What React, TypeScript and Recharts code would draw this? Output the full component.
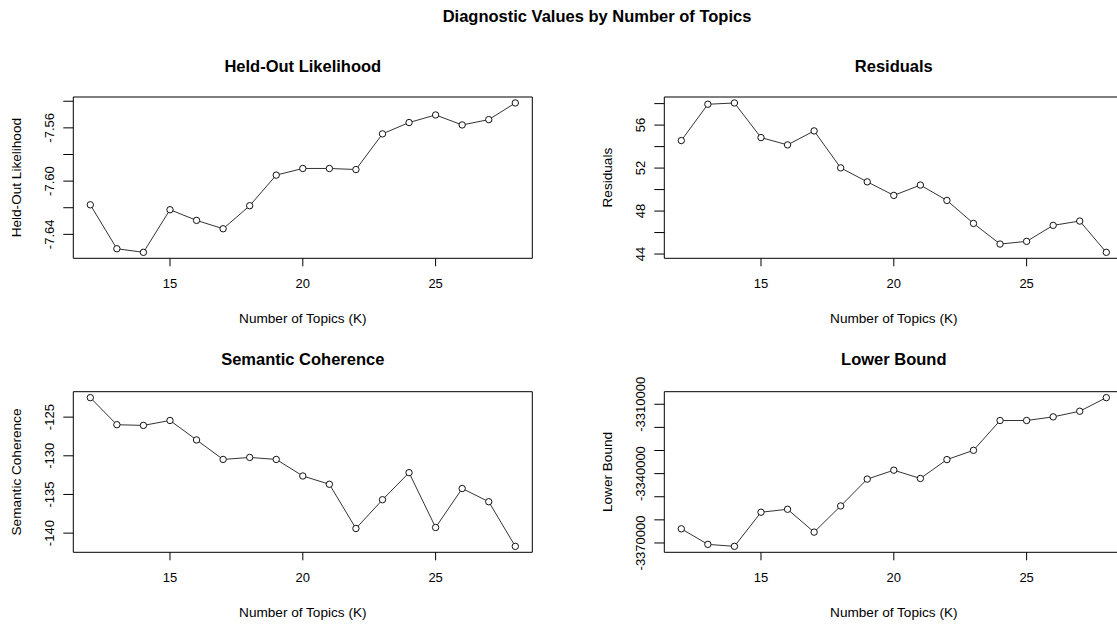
import React from 'react';
import { LineChart, Line, XAxis, YAxis, ReferenceArea, Label } from 'recharts';

const topicsK = [12, 13, 14, 15, 16, 17, 18, 19, 20, 21, 22, 23, 24, 25, 26, 27, 28];
const heldoutLikelihood = [-7.6178, -7.6508, -7.6535, -7.6215, -7.6295, -7.6358, -7.6185, -7.5955, -7.5905, -7.5905, -7.5913, -7.5645, -7.556, -7.5503, -7.5578, -7.5538, -7.5413];
const residuals = [54.56, 57.94, 58.06, 54.84, 54.16, 55.46, 52.02, 50.72, 49.46, 50.42, 48.99, 46.85, 44.93, 45.18, 46.67, 47.07, 44.16];
const semanticCoherence = [-122.48, -125.98, -126.07, -125.43, -127.95, -130.47, -130.21, -130.47, -132.61, -133.68, -139.4, -135.68, -132.18, -139.27, -134.23, -135.94, -141.71];
const lowerBound = [-3363868, -3370602, -3371461, -3356705, -3355415, -3365301, -3353983, -3342378, -3338510, -3342092, -3333926, -3329914, -3317020, -3317020, -3315444, -3313009, -3307135];

const kTicks = [15, 20, 25];
const heldoutTicks = [-7.64, -7.62, -7.6, -7.58, -7.56, -7.54];
const heldoutTickLabels = [-7.64, -7.6, -7.56];
const residualTicks = [44, 46, 48, 50, 52, 54, 56, 58];
const residualTickLabels = [44, 48, 52, 56];
const coherenceTicks = [-140, -135, -130, -125];
const coherenceTickLabels = [-140, -135, -130, -125];
const boundTicks = [-3370000, -3360000, -3350000, -3340000, -3330000, -3320000, -3310000];
const boundTickLabels = [-3370000, -3340000, -3310000];

const mainTitle = 'Diagnostic Values by Number of Topics';
const xTitle = 'Number of Topics (K)';

const FONT = '"Liberation Sans", Arial, sans-serif';
const LABEL_SIZE = 13.6;
const TICK_SIZE = 13;
const TITLE_SIZE = 16.5;

function padded(values: number[]): [number, number] {
  const mn = Math.min(...values);
  const mx = Math.max(...values);
  const r = mx - mn;
  return [mn - 0.04 * r, mx + 0.04 * r];
}

type PanelProps = {
  left: number;
  top: number;
  height: number;
  marginTop: number;
  marginBottom: number;
  values: number[];
  title: string;
  titleY: number;
  yLabel: string;
  yTicks: number[];
  yTickLabels: number[];
  digits: number;
};

const PW = 560;
const YW = 73.3;
const MR = 27.7;

function Panel(p: PanelProps) {
  const data = topicsK.map((k, i) => ({ k, v: p.values[i] }));
  const xDomain = padded(topicsK);
  const yDomain = padded(p.values);

  const XTick = (props: any) => {
    const { x, y, payload } = props;
    return (
      <text x={x} y={y + 15} dy="0.35em" textAnchor="middle" fontSize={TICK_SIZE} fontFamily={FONT} fill="#000">
        {payload.value}
      </text>
    );
  };

  const YTick = (props: any) => {
    const { x, y, payload } = props;
    const show = p.yTickLabels.some((l) => Math.abs(l - payload.value) < 1e-9);
    if (!show) return <g />;
    return (
      <text
        x={0}
        y={0}
        transform={`translate(${x - 12.3},${y}) rotate(-90)`}
        dy="0.35em"
        textAnchor="middle"
        fontSize={TICK_SIZE}
        fontFamily={FONT}
        fill="#000"
      >
        {Number(payload.value).toFixed(p.digits)}
      </text>
    );
  };

  return (
    <div style={{ position: 'absolute', left: p.left, top: p.top, width: PW, height: p.height }}>
      <div
        style={{
          position: 'absolute',
          left: YW,
          width: PW - YW - MR,
          top: p.titleY - p.top - 10,
          height: 20,
          lineHeight: '20px',
          textAlign: 'center',
          fontFamily: FONT,
          fontWeight: 'bold',
          fontSize: TITLE_SIZE,
          color: '#000',
        }}
      >
        {p.title}
      </div>
      <div style={{ position: 'absolute', left: 0, top: 0 }}>
        <LineChart
          width={PW}
          height={p.height}
          data={data}
          margin={{ top: p.marginTop, right: MR, bottom: p.marginBottom, left: 0 }}
        >
          <XAxis
            type="number"
            dataKey="k"
            domain={xDomain}
            allowDataOverflow
            ticks={kTicks}
            interval={0}
            axisLine={false}
            tickSize={8}
            tickLine={{ stroke: '#000', strokeWidth: 1 }}
            tick={<XTick />}
            height={60}
          >
            <Label
              content={(lp: any) => {
                const vb = lp.viewBox || {};
                return (
                  <text
                    x={vb.x + vb.width / 2}
                    y={vb.y + 59.5}
                    dy="0.35em"
                    textAnchor="middle"
                    fontSize={LABEL_SIZE}
                    fontFamily={FONT}
                    fill="#000"
                  >
                    {xTitle}
                  </text>
                );
              }}
            />
          </XAxis>
          <YAxis
            type="number"
            domain={yDomain}
            allowDataOverflow
            ticks={p.yTicks}
            interval={0}
            axisLine={false}
            tickSize={10}
            tickLine={{ stroke: '#000', strokeWidth: 1 }}
            tick={<YTick />}
            width={YW}
          >
            <Label
              content={(lp: any) => {
                const vb = lp.viewBox || {};
                const cy = vb.y + vb.height / 2;
                return (
                  <text
                    x={0}
                    y={0}
                    transform={`translate(${vb.x + 16.7},${cy}) rotate(-90)`}
                    dy="0.35em"
                    textAnchor="middle"
                    fontSize={LABEL_SIZE}
                    fontFamily={FONT}
                    fill="#000"
                  >
                    {p.yLabel}
                  </text>
                );
              }}
            />
          </YAxis>
          <ReferenceArea
            x1={xDomain[0]}
            x2={xDomain[1]}
            y1={yDomain[0]}
            y2={yDomain[1]}
            fill="none"
            fillOpacity={0}
            stroke="#000"
            strokeWidth={1}
            ifOverflow="visible"
          />
          <Line
            type="linear"
            dataKey="v"
            stroke="#333"
            strokeWidth={1}
            isAnimationActive={false}
            dot={{ r: 3.2, stroke: '#111', strokeWidth: 1, fill: '#fff' }}
            activeDot={false}
          />
        </LineChart>
      </div>
    </div>
  );
}

export default function App() {
  return (
    <div
      style={{
        position: 'absolute',
        left: 0,
        top: 0,
        width: 1117,
        height: 624,
        overflow: 'hidden',
        background: '#fff',
        fontFamily: FONT,
      }}
    >
      <div
        style={{
          position: 'absolute',
          left: 0,
          width: 1194,
          top: 6,
          height: 20,
          lineHeight: '20px',
          textAlign: 'center',
          fontWeight: 'bold',
          fontSize: TITLE_SIZE,
          color: '#000',
        }}
      >
        {mainTitle}
      </div>
      <Panel
        left={0}
        top={0}
        height={335}
        marginTop={97}
        marginBottom={16.7}
        values={heldoutLikelihood}
        title="Held-Out Likelihood"
        titleY={66}
        yLabel="Held-Out Likelihood"
        yTicks={heldoutTicks}
        yTickLabels={heldoutTickLabels}
        digits={2}
      />
      <Panel
        left={591}
        top={0}
        height={335}
        marginTop={97}
        marginBottom={16.7}
        values={residuals}
        title="Residuals"
        titleY={66}
        yLabel="Residuals"
        yTicks={residualTicks}
        yTickLabels={residualTickLabels}
        digits={0}
      />
      <Panel
        left={0}
        top={335}
        height={289}
        marginTop={56.7}
        marginBottom={11.7}
        values={semanticCoherence}
        title="Semantic Coherence"
        titleY={359}
        yLabel="Semantic Coherence"
        yTicks={coherenceTicks}
        yTickLabels={coherenceTickLabels}
        digits={0}
      />
      <Panel
        left={591}
        top={335}
        height={289}
        marginTop={56.7}
        marginBottom={11.7}
        values={lowerBound}
        title="Lower Bound"
        titleY={359}
        yLabel="Lower Bound"
        yTicks={boundTicks}
        yTickLabels={boundTickLabels}
        digits={0}
      />
    </div>
  );
}
